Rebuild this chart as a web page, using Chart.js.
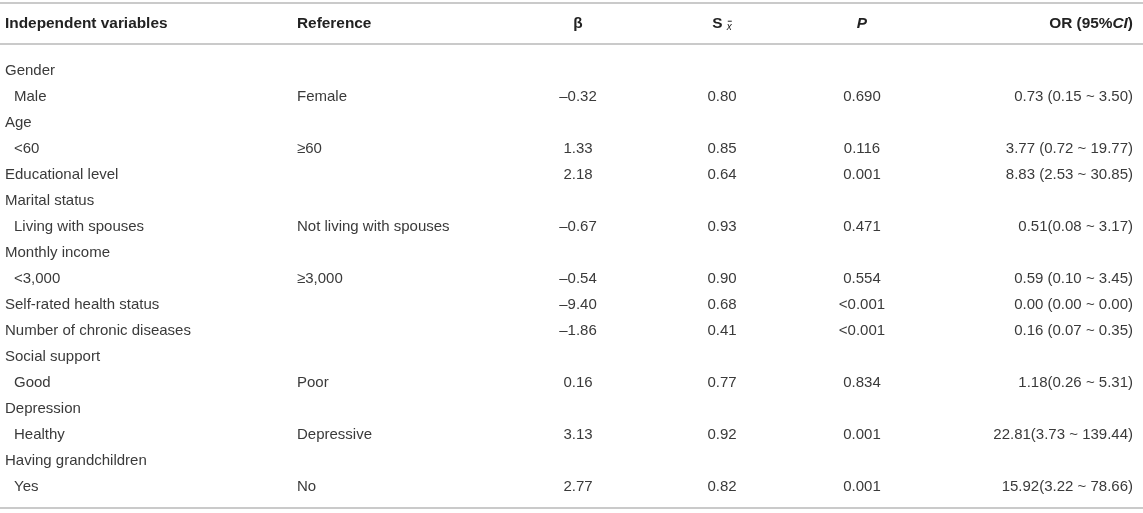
<!DOCTYPE html>
<html>
<head>
<meta charset="utf-8">
<script src="https://cdn.jsdelivr.net/npm/chart.js@4.4.1/dist/chart.umd.min.js"></script>
<style>
  html, body { margin: 0; padding: 0; background: #ffffff; }
  #wrap { width: 1143px; height: 513px; position: relative; }
</style>
</head>
<body>
<div id="wrap"><canvas id="tableChart"></canvas></div>
<script>
// table contents, one entry per row
const headers = ["Independent variables", "Reference", "β", "S", "P", "OR (95%CI)"];
const variables = [
  "Gender", "Male", "Age", "<60", "Educational level", "Marital status",
  "Living with spouses", "Monthly income", "<3,000", "Self-rated health status",
  "Number of chronic diseases", "Social support", "Good", "Depression",
  "Healthy", "Having grandchildren", "Yes"
];
const levels = [0, 1, 0, 1, 0, 0, 1, 0, 1, 0, 0, 0, 1, 0, 1, 0, 1];
const references = [
  "", "Female", "", "≥60", "", "", "Not living with spouses", "", "≥3,000",
  "", "", "", "Poor", "", "Depressive", "", "No"
];
const betas = [null, -0.32, null, 1.33, 2.18, null, -0.67, null, -0.54, -9.40, -1.86, null, 0.16, null, 3.13, null, 2.77];
const stdErrors = [null, 0.80, null, 0.85, 0.64, null, 0.93, null, 0.90, 0.68, 0.41, null, 0.77, null, 0.92, null, 0.82];
const pValues = [
  "", "0.690", "", "0.116", "0.001", "", "0.471", "", "0.554", "<0.001",
  "<0.001", "", "0.834", "", "0.001", "", "0.001"
];
const oddsRatios = [
  "", "0.73 (0.15 ~ 3.50)", "", "3.77 (0.72 ~ 19.77)", "8.83 (2.53 ~ 30.85)", "",
  "0.51(0.08 ~ 3.17)", "", "0.59 (0.10 ~ 3.45)", "0.00 (0.00 ~ 0.00)",
  "0.16 (0.07 ~ 0.35)", "", "1.18(0.26 ~ 5.31)", "", "22.81(3.73 ~ 139.44)",
  "", "15.92(3.22 ~ 78.66)"
];

const HEADER_ROW = -1.8;
const RULES = [-2.615, -1.038, 16.81];
const FONT = "'Liberation Sans', Arial, sans-serif";
const TEXT_COLOR = "#3a3a3a";
const HEAD_COLOR = "#222222";

function fmtNum(v) {
  if (v === null) return "";
  return v < 0 ? "–" + Math.abs(v).toFixed(2) : v.toFixed(2);
}

function textColumn(values, x, align) {
  const data = [];
  values.forEach((v, i) => {
    if (v !== "") data.push({ x: typeof x === "function" ? x(i) : x, y: i, text: v });
  });
  return { type: "scatter", data: data, pointRadius: 0, textAlign: align, isText: true };
}

function ruleLine(v) {
  return {
    type: "line",
    data: [{ x: 0, y: v }, { x: 1143, y: v }],
    borderColor: "#b9b9b9",
    borderWidth: 1.5,
    pointRadius: 0,
    isText: false
  };
}

const headerCols = [
  { x: 5, align: "left" }, { x: 297, align: "left" }, { x: 578, align: "center" },
  { x: 722, align: "center" }, { x: 862, align: "center" }, { x: 1133, align: "right" }
];

const headerDataset = {
  type: "scatter",
  data: headers.map((h, i) => ({ x: headerCols[i].x, y: HEADER_ROW, text: h, col: i })),
  pointRadius: 0,
  isHeader: true
};

// draws rich header runs (italics, subscript) and plain cell text
function drawRuns(ctx, runs, x, y, align) {
  let total = 0;
  runs.forEach(r => { ctx.font = r.font; total += ctx.measureText(r.text).width; });
  let cx = align === "left" ? x : align === "right" ? x - total : x - total / 2;
  runs.forEach(r => {
    ctx.font = r.font;
    ctx.textAlign = "left";
    ctx.fillText(r.text, cx, y + (r.dy || 0));
    if (r.macron) {
      const w = ctx.measureText(r.text).width;
      ctx.fillRect(cx + 1, y + (r.dy || 0) - 6.5, w - 1, 1);
    }
    cx += ctx.measureText(r.text).width;
  });
}

function headerRuns(col, text) {
  const b = "bold 15.4px " + FONT;
  if (col === 3) {
    return [
      { text: "S", font: b },
      { text: " ", font: b },
      { text: "x", font: "italic 10px " + FONT, dy: 3, macron: true }
    ];
  }
  if (col === 4) return [{ text: "P", font: "italic bold 15.4px " + FONT }];
  if (col === 5) {
    return [
      { text: "OR (95%", font: b },
      { text: "CI", font: "italic bold 15.4px " + FONT },
      { text: ")", font: b }
    ];
  }
  return [{ text: text, font: b }];
}

const cellText = {
  id: "cellText",
  afterDatasetsDraw(chart) {
    const ctx = chart.ctx;
    ctx.save();
    ctx.textBaseline = "middle";
    chart.data.datasets.forEach((ds, di) => {
      if (!ds.isText && !ds.isHeader) return;
      const meta = chart.getDatasetMeta(di);
      meta.data.forEach((el, j) => {
        const item = ds.data[j];
        if (ds.isHeader) {
          ctx.fillStyle = HEAD_COLOR;
          drawRuns(ctx, headerRuns(item.col, item.text), el.x, el.y, headerCols[item.col].align);
        } else {
          ctx.fillStyle = TEXT_COLOR;
          drawRuns(ctx, [{ text: item.text, font: "15px " + FONT }], el.x, el.y, ds.textAlign);
        }
      });
    });
    ctx.restore();
  }
};

const datasets = [
  ruleLine(RULES[0]), ruleLine(RULES[1]), ruleLine(RULES[2]),
  headerDataset,
  textColumn(variables, i => (levels[i] ? 14 : 5), "left"),
  textColumn(references, 297, "left"),
  textColumn(betas.map(fmtNum), 578, "center"),
  textColumn(stdErrors.map(fmtNum), 722, "center"),
  textColumn(pValues, 862, "center"),
  textColumn(oddsRatios, 1133, "right")
];

new Chart(document.getElementById("tableChart"), {
  data: { datasets: datasets },
  options: {
    responsive: true,
    maintainAspectRatio: false,
    animation: false,
    layout: { padding: 0 },
    plugins: { legend: { display: false }, tooltip: { enabled: false } },
    scales: {
      x: { type: "linear", min: 0, max: 1143, display: false },
      y: { type: "linear", min: -71 / 26, max: 442 / 26, reverse: true, display: false }
    }
  },
  plugins: [cellText]
});
</script>
</body>
</html>
